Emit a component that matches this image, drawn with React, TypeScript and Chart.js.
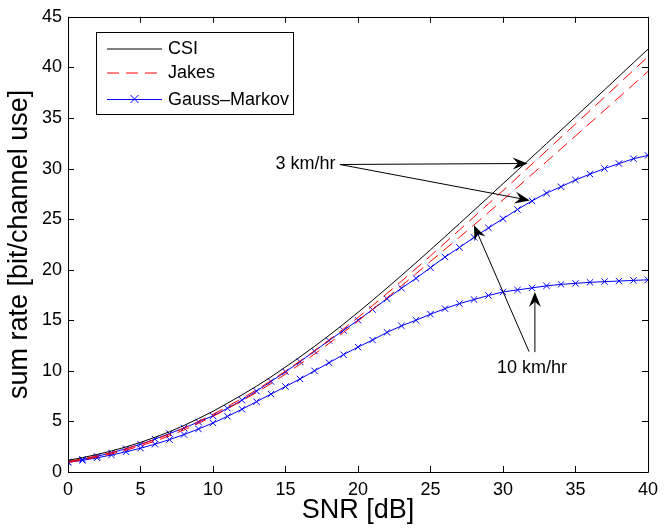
import { useEffect, useRef } from 'react';
import { Chart, registerables } from 'chart.js';

Chart.register(...registerables);

const FONT = "'Liberation Sans', Arial, Helvetica, sans-serif";

// SNR in dB
const snr = [0, 1, 2, 3, 4, 5, 6, 7, 8, 9, 10, 11, 12, 13, 14, 15, 16, 17, 18, 19, 20,
  21, 22, 23, 24, 25, 26, 27, 28, 29, 30, 31, 32, 33, 34, 35, 36, 37, 38, 39, 40];

const csi = [1.15, 1.42, 1.73, 2.08, 2.48, 2.93, 3.43, 3.98, 4.6, 5.28, 6.0, 6.8, 7.62, 8.48, 9.4,
  10.38, 11.38, 12.42, 13.5, 14.62, 15.78, 16.97, 18.19, 19.43, 20.69, 21.97, 23.26, 24.56, 25.87,
  27.18, 28.5, 29.82, 31.14, 32.46, 33.79, 35.12, 36.45, 37.78, 39.12, 40.46, 41.8];

const jakes3 = [1.05, 1.3, 1.59, 1.92, 2.3, 2.73, 3.21, 3.74, 4.34, 5.0, 5.7, 6.48, 7.28, 8.12, 9.02,
  9.98, 10.96, 11.98, 13.04, 14.14, 15.28, 16.45, 17.65, 18.87, 20.11, 21.37, 22.64, 23.93, 25.22,
  26.52, 27.82, 29.13, 30.44, 31.76, 33.08, 34.4, 35.72, 37.05, 38.38, 39.72, 41.05];

const jakes10 = [0.95, 1.19, 1.47, 1.79, 2.16, 2.58, 3.05, 3.57, 4.16, 4.81, 5.5, 6.26, 7.04, 7.86, 8.74,
  9.68, 10.65, 11.66, 12.71, 13.8, 14.93, 16.06, 17.22, 18.4, 19.6, 20.82, 22.01, 23.21, 24.42,
  25.66, 26.9, 28.16, 29.42, 30.68, 31.95, 33.22, 34.49, 35.76, 37.04, 38.32, 39.6];

const gm3 = [1.0, 1.25, 1.55, 1.9, 2.3, 2.75, 3.25, 3.8, 4.35, 4.95, 5.55, 6.3, 7.1, 8.0, 8.95,
  9.9, 10.9, 11.95, 13.0, 14.0, 15.0, 16.06, 17.13, 18.17, 19.14, 20.2, 21.25, 22.2, 23.2,
  24.13, 25.04, 25.95, 26.8, 27.57, 28.2, 28.87, 29.45, 30.0, 30.49, 30.97, 31.3];

const gm10 = [0.95, 1.15, 1.4, 1.68, 2.0, 2.35, 2.75, 3.2, 3.7, 4.25, 4.85, 5.5, 6.2, 6.95, 7.7,
  8.45, 9.2, 10.0, 10.8, 11.6, 12.35, 13.05, 13.8, 14.45, 15.0, 15.6, 16.15, 16.65, 17.05,
  17.45, 17.8, 18.0, 18.2, 18.4, 18.55, 18.65, 18.75, 18.82, 18.88, 18.94, 19.0];

const legendLabels = ['CSI', 'Jakes', 'Gauss\u2013Markov'];
const xTitle = 'SNR [dB]';
const yTitle = 'sum rate [bit/channel use]';

// annotation texts and arrows in data coordinates
const label3 = { text: '3 km/hr', x: 18.45, y: 30.4, align: 'right' as CanvasTextAlign };
const label10 = { text: '10 km/hr', x: 32.0, y: 10.3, align: 'center' as CanvasTextAlign };
const arrows = [
  { from: [18.75, 30.4], to: [31.7, 30.5] },
  { from: [18.75, 30.4], to: [31.85, 26.85] },
  { from: [31.8, 11.9], to: [28.0, 24.4] },
  { from: [32.2, 11.85], to: [32.2, 17.8] },
];

const DASH = [12, 7];

const toPts = (ys: number[]) => snr.map((x, i) => ({ x, y: ys[i] }));

const framePlugin = {
  id: 'frame',
  afterDatasetsDraw(chart: any) {
    const { ctx, chartArea: a, scales } = chart;
    ctx.save();
    ctx.strokeStyle = '#000';
    ctx.lineWidth = 1;
    ctx.beginPath();
    ctx.rect(Math.round(a.left) + 0.5, Math.round(a.top) + 0.5, Math.round(a.right - a.left), Math.round(a.bottom - a.top));
    ctx.stroke();
    const tl = 6;
    ctx.beginPath();
    for (const t of scales.x.ticks) {
      const px = Math.round(scales.x.getPixelForValue(t.value)) + 0.5;
      ctx.moveTo(px, a.bottom); ctx.lineTo(px, a.bottom - tl);
      ctx.moveTo(px, a.top); ctx.lineTo(px, a.top + tl);
    }
    for (const t of scales.y.ticks) {
      const py = Math.round(scales.y.getPixelForValue(t.value)) + 0.5;
      ctx.moveTo(a.left, py); ctx.lineTo(a.left + tl, py);
      ctx.moveTo(a.right, py); ctx.lineTo(a.right - tl, py);
    }
    ctx.stroke();
    ctx.restore();
  },
};

function drawArrow(ctx: CanvasRenderingContext2D, x1: number, y1: number, x2: number, y2: number) {
  const dx = x2 - x1, dy = y2 - y1;
  const len = Math.hypot(dx, dy);
  const ux = dx / len, uy = dy / len;
  const nx = -uy, ny = ux;
  const L = 15, W = 12;
  const bx = x2 - ux * L, by = y2 - uy * L;
  const mx = x2 - ux * L * 0.65, my = y2 - uy * L * 0.65;
  ctx.beginPath();
  ctx.moveTo(x1, y1);
  ctx.lineTo(mx, my);
  ctx.stroke();
  ctx.beginPath();
  ctx.moveTo(x2, y2);
  ctx.lineTo(bx + nx * W / 2, by + ny * W / 2);
  ctx.lineTo(mx, my);
  ctx.lineTo(bx - nx * W / 2, by - ny * W / 2);
  ctx.closePath();
  ctx.fill();
}

const annotationPlugin = {
  id: 'annot',
  afterDraw(chart: any) {
    const { ctx, scales } = chart;
    const X = (v: number) => scales.x.getPixelForValue(v);
    const Y = (v: number) => scales.y.getPixelForValue(v);
    ctx.save();
    ctx.strokeStyle = '#000';
    ctx.fillStyle = '#000';
    ctx.lineWidth = 1;
    for (const a of arrows) drawArrow(ctx, X(a.from[0]), Y(a.from[1]), X(a.to[0]), Y(a.to[1]));
    ctx.font = `18px ${FONT}`;
    ctx.textBaseline = 'middle';
    for (const l of [label3, label10]) {
      ctx.textAlign = l.align;
      ctx.fillText(l.text, X(l.x), Y(l.y));
    }
    ctx.restore();
  },
};

const legendPlugin = {
  id: 'mlegend',
  afterDraw(chart: any) {
    const { ctx } = chart;
    const bx = 96, by = 32, bw = 197, bh = 82;
    ctx.save();
    ctx.fillStyle = '#fff';
    ctx.fillRect(bx, by, bw, bh);
    ctx.strokeStyle = '#000';
    ctx.lineWidth = 1;
    ctx.strokeRect(bx + 0.5, by + 0.5, bw, bh);
    const rows = [48.5, 72.5, 99];
    const styles = [
      { color: '#000', dash: [] as number[], marker: false },
      { color: '#ff0000', dash: DASH, marker: false },
      { color: '#0000ff', dash: [] as number[], marker: true },
    ];
    ctx.font = `18px ${FONT}`;
    ctx.textBaseline = 'middle';
    ctx.textAlign = 'left';
    rows.forEach((ry, i) => {
      const s = styles[i];
      ctx.strokeStyle = s.color;
      ctx.setLineDash(s.dash);
      ctx.beginPath();
      ctx.moveTo(107, ry + 0.5);
      ctx.lineTo(162, ry + 0.5);
      ctx.stroke();
      ctx.setLineDash([]);
      if (s.marker) {
        const cx = 134.5, r = 4;
        ctx.beginPath();
        ctx.moveTo(cx - r, ry - r); ctx.lineTo(cx + r, ry + r);
        ctx.moveTo(cx - r, ry + r); ctx.lineTo(cx + r, ry - r);
        ctx.stroke();
      }
      ctx.fillStyle = '#000';
      ctx.fillText(legendLabels[i], 168, ry + 1);
    });
    ctx.restore();
  },
};

export default function App() {
  const ref = useRef<HTMLCanvasElement>(null);
  useEffect(() => {
    document.body.style.margin = '0';
    const canvas = ref.current!;
    const lineBase = { tension: 0, borderWidth: 1, fill: false };
    const chart = new Chart(canvas, {
      type: 'line',
      data: {
        datasets: [
          { label: legendLabels[0], data: toPts(csi), borderColor: '#000', pointRadius: 0, ...lineBase },
          { label: legendLabels[1], data: toPts(jakes3), borderColor: '#ff0000', borderDash: DASH, pointRadius: 0, ...lineBase },
          { label: legendLabels[1], data: toPts(jakes10), borderColor: '#ff0000', borderDash: DASH, pointRadius: 0, ...lineBase },
          { label: legendLabels[2], data: toPts(gm3), borderColor: '#0000ff', pointStyle: 'crossRot', pointRadius: 4.5, pointBorderWidth: 1, pointBorderColor: '#0000ff', ...lineBase },
          { label: legendLabels[2], data: toPts(gm10), borderColor: '#0000ff', pointStyle: 'crossRot', pointRadius: 4.5, pointBorderWidth: 1, pointBorderColor: '#0000ff', ...lineBase },
        ],
      },
      options: {
        responsive: false,
        animation: false,
        devicePixelRatio: 1,
        layout: { padding: { left: 0, right: 10, top: 14, bottom: 0 } },
        scales: {
          x: {
            type: 'linear', min: 0, max: 40,
            ticks: { stepSize: 5, autoSkip: false, maxRotation: 0, color: '#000', padding: 7, font: { family: FONT, size: 18 } },
            grid: { display: false, drawTicks: false },
            border: { display: false },
            title: { display: true, text: xTitle, color: '#000', font: { family: FONT, size: 27 }, padding: { top: 0, bottom: 2 } },
            afterFit: (s: any) => { s.height = 57; },
          },
          y: {
            type: 'linear', min: 0, max: 45,
            ticks: { stepSize: 5, autoSkip: false, color: '#000', padding: 6, font: { family: FONT, size: 18 } },
            grid: { display: false, drawTicks: false },
            border: { display: false },
            title: { display: true, text: yTitle, color: '#000', font: { family: FONT, size: 27 }, padding: { top: 3, bottom: 0 } },
            afterFit: (s: any) => { s.width = 68; },
          },
        },
        plugins: { legend: { display: false }, tooltip: { enabled: false } },
      },
      plugins: [framePlugin, annotationPlugin, legendPlugin],
    } as any);
    return () => chart.destroy();
  }, []);
  return (
    <div style={{ position: 'absolute', left: 0, top: 0, width: 665, height: 529, background: '#fff' }}>
      <canvas ref={ref} width={665} height={529} style={{ display: 'block', width: 665, height: 529 }} />
    </div>
  );
}
